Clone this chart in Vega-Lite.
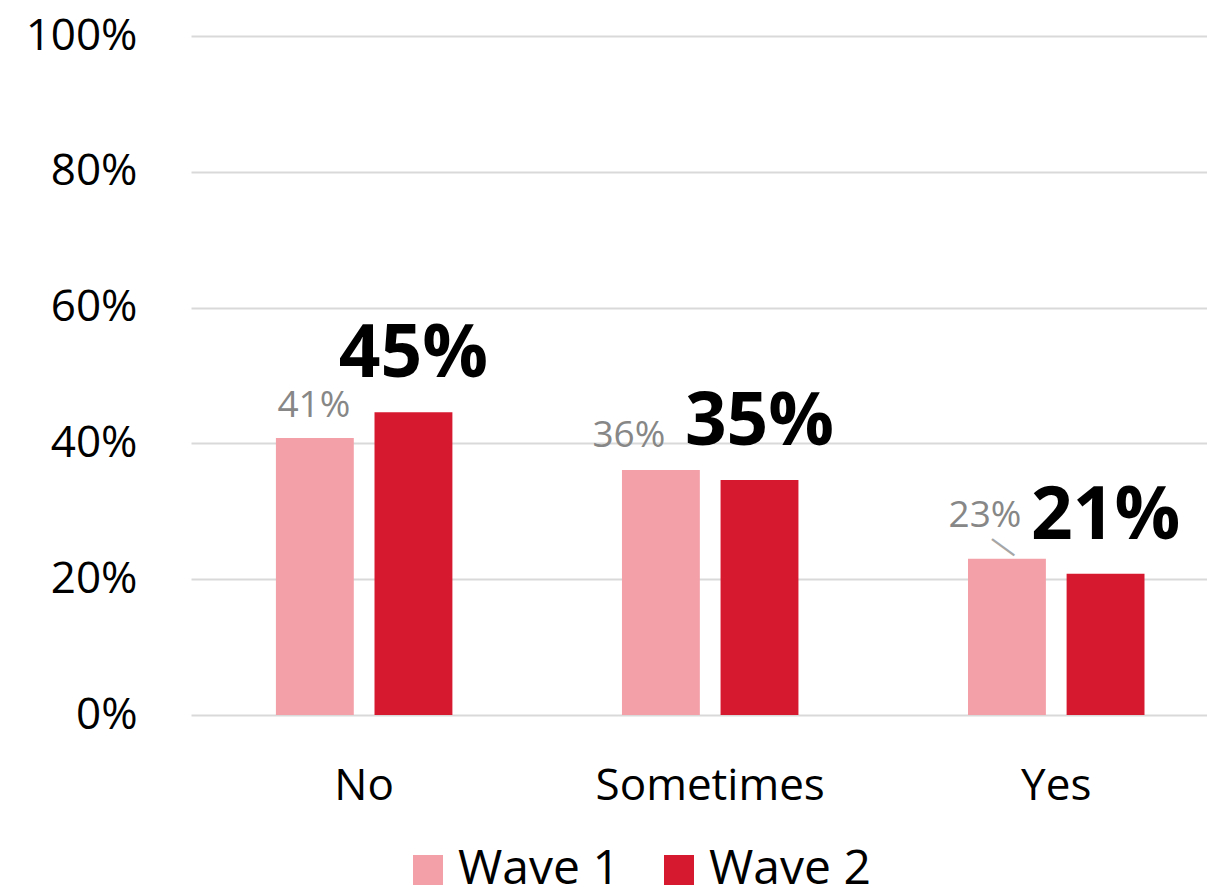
{
  "$schema": "https://vega.github.io/schema/vega-lite/v6.json",
  "autosize": {"type": "none"},
  "padding": {"left": 191, "top": 36, "right": 0, "bottom": 176},
  "width": 1016,
  "height": 679,
  "background": "white",
  "config": {
    "view": {"stroke": null},
    "font": "Open Sans"
  },
  "data": {
    "values": [
      {"answer": "No", "wave": "Wave 1", "value": 0.408},
      {"answer": "No", "wave": "Wave 2", "value": 0.446},
      {"answer": "Sometimes", "wave": "Wave 1", "value": 0.361},
      {"answer": "Sometimes", "wave": "Wave 2", "value": 0.346},
      {"answer": "Yes", "wave": "Wave 1", "value": 0.230},
      {"answer": "Yes", "wave": "Wave 2", "value": 0.208}
    ]
  },
  "encoding": {
    "x": {
      "field": "answer", "type": "nominal", "sort": ["No", "Sometimes", "Yes"],
      "scale": {"paddingInner": 0.49, "paddingOuter": 0.213, "align": 0.576},
      "axis": {"title": null, "labelAngle": 0, "domain": false, "ticks": false, "labelFontSize": 44, "labelColor": "#000000", "labelPadding": 49, "labelLimit": 0, "labelFont": "Open Sans"}
    },
    "xOffset": {"field": "wave", "type": "nominal", "scale": {"domain": ["Wave 1", "Wave 2"], "paddingInner": 0.21, "paddingOuter": 0}},
    "y": {
      "field": "value", "type": "quantitative",
      "scale": {"domain": [0, 1], "nice": false},
      "axis": {"title": null, "format": ".0%", "values": [0, 0.2, 0.4, 0.6, 0.8, 1], "domain": false, "ticks": false, "labelFontSize": 44, "labelColor": "#000000", "labelPadding": 54, "gridColor": "#d9d9d9", "gridWidth": 2, "labelFont": "Open Sans"}
    }
  },
  "layer": [
    {
      "mark": {"type": "bar"},
      "encoding": {
        "color": {
          "field": "wave", "type": "nominal",
          "scale": {"domain": ["Wave 1", "Wave 2"], "range": ["#F4A0A8", "#D7192F"]},
          "legend": {
            "title": null, "orient": "none", "direction": "horizontal",
            "legendX": 213, "legendY": 810,
            "symbolType": "square", "symbolSize": 900, "symbolStrokeWidth": 0,
            "labelFontSize": 48, "labelFont": "Open Sans", "labelColor": "#000000",
            "labelOffset": 6, "labelLimit": 0, "columnPadding": 35, "padding": 0
          }
        }
      }
    },
    {
      "transform": [{"filter": "datum.wave === 'Wave 2'"}],
      "mark": {"type": "text", "baseline": "alphabetic", "align": "center", "dy": -35, "fontSize": 73, "fontWeight": "bold", "font": "Open Sans", "color": "#000000"},
      "encoding": {"text": {"field": "value", "type": "quantitative", "format": ".0%"}}
    },
    {
      "transform": [{"filter": "datum.wave === 'Wave 1' && datum.answer === 'No'"}],
      "mark": {"type": "text", "baseline": "alphabetic", "align": "center", "dx": -1, "dy": -21, "fontSize": 37, "font": "Open Sans", "color": "#878787"},
      "encoding": {"text": {"field": "value", "type": "quantitative", "format": ".0%"}}
    },
    {
      "transform": [{"filter": "datum.wave === 'Wave 1' && datum.answer === 'Sometimes'"}],
      "mark": {"type": "text", "baseline": "alphabetic", "align": "center", "dx": -32, "dy": -23, "fontSize": 37, "font": "Open Sans", "color": "#878787"},
      "encoding": {"text": {"field": "value", "type": "quantitative", "format": ".0%"}}
    },
    {
      "transform": [{"filter": "datum.wave === 'Wave 1' && datum.answer === 'Yes'"}],
      "mark": {"type": "text", "baseline": "alphabetic", "align": "center", "dx": -22, "dy": -32, "fontSize": 37, "font": "Open Sans", "color": "#878787"},
      "encoding": {"text": {"field": "value", "type": "quantitative", "format": ".0%"}}
    },
    {
      "transform": [{"filter": "datum.wave === 'Wave 1' && datum.answer === 'Yes'"}],
      "mark": {"type": "text", "text": "—", "baseline": "middle", "align": "center", "dx": -10, "dy": -8, "angle": 36, "fontSize": 30, "font": "Open Sans", "color": "#a6a6a6"},
      "encoding": {}
    }
  ]
}
